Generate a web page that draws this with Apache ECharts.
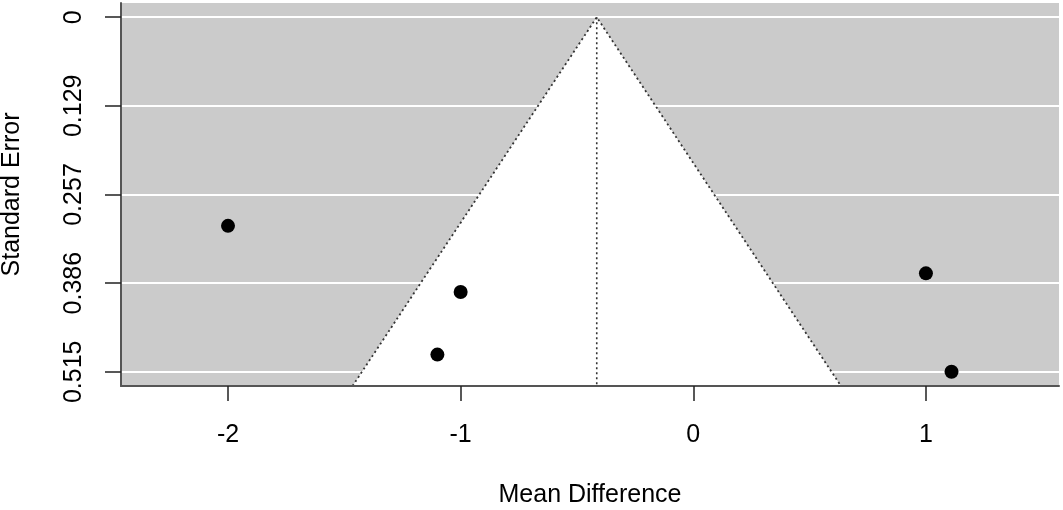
<!DOCTYPE html>
<html>
<head>
<meta charset="utf-8">
<script src="https://cdn.jsdelivr.net/npm/echarts@6/dist/echarts.min.js"></script>
<style>
  html, body { margin: 0; padding: 0; background: #fff; }
  #main { width: 1063px; height: 510px; }
</style>
</head>
<body>
<div id="main"></div>
<script>
  var meanDiff = [-2.00, -1.00, -1.10, 1.00, 1.11];
  var stdErr = [0.303, 0.399, 0.490, 0.372, 0.515];
  var estimate = -0.415;
  var xTicks = [-2, -1, 0, 1];
  var seTicks = [0, 0.12875, 0.2575, 0.38625, 0.515];
  var seTickLabels = ['0', '0.129', '0.257', '0.386', '0.515'];
  var xRange = [-2.46, 1.572];
  var seRange = [-0.0206, 0.5356];

  var myChart = echarts.init(document.getElementById('main'));

  var points = [];
  for (var i = 0; i < meanDiff.length; i++) {
    points.push([meanDiff[i], stdErr[i]]);
  }
  // funnel edges down to the bottom of the plot
  var seMax = seRange[1];
  var funnel = [[estimate - 1.96 * seMax, seMax], [estimate, 0], [estimate + 1.96 * seMax, seMax]];
  var centre = [[estimate, 0], [estimate, seMax]];

  var font = 'Liberation Sans, Arial, sans-serif';

  var option = {
    animation: false,
    grid: {
      left: 121, right: 4, top: 3, bottom: 124,
      outerBoundsMode: 'none', containLabel: false,
      show: true, backgroundColor: '#cbcbcb', borderWidth: 0
    },
    xAxis: {
      type: 'value', min: xRange[0], max: xRange[1], z: 10,
      name: 'Mean Difference', nameLocation: 'middle', nameGap: 97,
      nameTextStyle: { fontSize: 25, color: '#000', fontFamily: font },
      axisLine: { show: true, onZero: false, lineStyle: { color: '#555', width: 2 } },
      axisTick: { show: true, length: 15, customValues: xTicks, lineStyle: { color: '#222', width: 1.5 } },
      axisLabel: { customValues: xTicks, margin: 37, fontSize: 25, color: '#000', fontFamily: font },
      splitLine: { show: false }
    },
    yAxis: {
      type: 'value', inverse: true, min: seRange[0], max: seRange[1],
      name: 'Standard Error', nameLocation: 'middle', nameGap: 96, nameRotate: 90,
      nameTextStyle: { fontSize: 25, color: '#000', fontFamily: font },
      axisLine: { show: true, onZero: false, lineStyle: { color: '#555', width: 2 } },
      axisTick: { show: true, length: 16, customValues: seTicks, lineStyle: { color: '#222', width: 1.5 } },
      axisLabel: {
        customValues: seTicks, rotate: 90, margin: 34, fontSize: 25, color: '#000', fontFamily: font,
        formatter: function (v) {
          for (var k = 0; k < seTicks.length; k++) {
            if (Math.abs(seTicks[k] - v) < 1e-9) return seTickLabels[k];
          }
          return '';
        }
      },
      splitLine: { show: true, lineStyle: { color: '#ffffff', width: 2 } }
    },
    series: [
      {
        type: 'custom', z: 2, silent: true, clip: true,
        data: [[estimate, 0]],
        renderItem: function (params, api) {
          var pts = [
            api.coord([estimate, 0]),
            api.coord([estimate - 1.96 * seMax, seMax]),
            api.coord([estimate + 1.96 * seMax, seMax])
          ];
          return { type: 'polygon', shape: { points: pts }, style: { fill: '#ffffff' } };
        }
      },
      {
        type: 'line', z: 3, data: funnel, symbol: 'none', silent: true,
        lineStyle: { color: '#333', width: 1.8, type: [2, 3] }
      },
      {
        type: 'line', z: 3, data: centre, symbol: 'none', silent: true,
        lineStyle: { color: '#333', width: 1.6, type: [2, 3] }
      },
      {
        type: 'scatter', z: 4, data: points, symbol: 'circle', symbolSize: 14,
        itemStyle: { color: '#000', opacity: 1 }
      }
    ]
  };
  myChart.setOption(option);
</script>
</body>
</html>
